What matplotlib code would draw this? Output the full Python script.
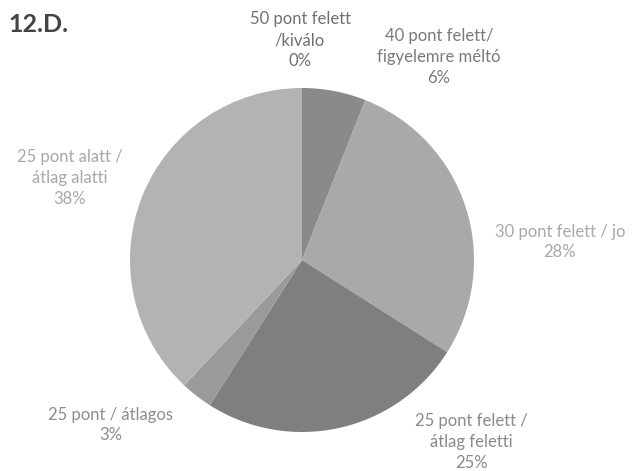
import matplotlib
matplotlib.use("Agg")
import matplotlib.pyplot as plt

# score bands, clockwise from the top
LABELS = [
    "50 pont felett\n/kiválo",
    "40 pont felett/\nfigyelemre méltó",
    "30 pont felett / jo",
    "25 pont felett /\nátlag feletti",
    "25 pont / átlagos",
    "25 pont alatt /\nátlag alatti",
]
SHARES = [0, 6, 28, 25, 3, 38]
SLICE_COLORS = ["#6e6e6e", "#8a8a8a", "#a9a9a9", "#7f7f7f", "#9a9a9a", "#b3b3b3"]
TEXT_COLORS = ["#707070", "#7a7a7a", "#a8a8a8", "#8a8a8a", "#8e8e8e", "#a8a8a8"]
# label centres in pixels (x, y from top)
LABEL_POS = [(300, 40), (439, 57), (560, 242), (471, 442), (111, 425), (70, 178)]

W, H = 632, 471
fig = plt.figure(figsize=(W / 100, H / 100), dpi=100)
fig.patch.set_facecolor("white")

cx, cy, r = 302, 260, 172
ax = fig.add_axes([(cx - r) / W, (H - cy - r) / H, 2 * r / W, 2 * r / H])
ax.pie(SHARES, colors=SLICE_COLORS, startangle=90, counterclock=False,
       radius=1.0, wedgeprops=dict(linewidth=0))
ax.set_xlim(-1.0, 1.0)
ax.set_ylim(-1.0, 1.0)
ax.set_aspect("equal")
ax.axis("off")

for lab, share, col, (px, py) in zip(LABELS, SHARES, TEXT_COLORS, LABEL_POS):
    fig.text(px / W, 1 - py / H, f"{lab}\n{share}%", ha="center", va="center",
             fontsize=12, color=col, family="Lato", linespacing=1.35)

fig.text(8 / W, 1 - 24 / H, "12.D.", ha="left", va="center", fontsize=18,
         fontweight="bold", color="#444444", family="Lato")

fig.savefig("out.png", dpi=100)
